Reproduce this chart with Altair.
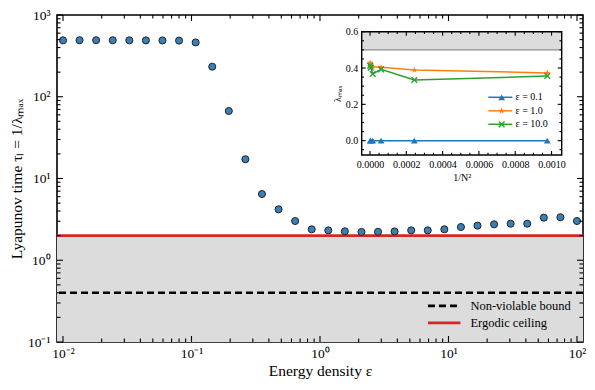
import altair as alt
import pandas as pd

# ---------------- data ----------------
eps = [0.01, 0.01345, 0.0181, 0.02438, 0.03282, 0.04417, 0.05946, 0.08003,
       0.1077, 0.145, 0.1951, 0.2626, 0.3536, 0.4759, 0.6404, 0.862,
       1.160, 1.561, 2.102, 2.828, 3.808, 5.125, 6.898, 9.284,
       12.50, 16.82, 22.64, 30.47, 41.01, 55.22, 74.30, 100.0]
tau = [490, 492, 492, 491, 490, 489, 488, 486,
       462, 233, 67, 17.2, 6.46, 4.2, 3.02, 2.39,
       2.32, 2.26, 2.22, 2.23, 2.25, 2.32, 2.32, 2.39,
       2.55, 2.65, 2.75, 2.80, 2.80, 3.32, 3.36, 3.02]
bound_names = ["Non-violable bound", "Ergodic ceiling"]
bound_values = [0.4, 2.0]

inv_n2 = [9.54e-7, 3.81e-6, 1.526e-5, 6.10e-5, 2.441e-4, 9.766e-4]
lam_eps01 = [0.0, 0.0, 0.0, 0.0, 0.0, 0.0]
lam_eps1 = [0.429, 0.418, 0.407, 0.404, 0.389, 0.373]
lam_eps10 = [0.413, 0.402, 0.367, 0.393, 0.334, 0.356]
series_names = ["ε = 0.1", "ε = 1.0", "ε = 10.0"]
series_codes = ["0.1", "1.0", "10.0"]
series_colors = ["#1f77b4", "#ff7f0e", "#2ca02c"]
inset_ceiling = 0.5

x_major = [0.01, 0.1, 1, 10, 100]
y_major = [0.1, 1, 10, 100, 1000]
x_minor = [m * d for d in [0.01, 0.1, 1, 10] for m in range(2, 10)]
y_minor = [m * d for d in [0.1, 1, 10, 100] for m in range(2, 10)]
ix_major = [0.0, 0.0002, 0.0004, 0.0006, 0.0008, 0.001]
ix_minor = [k * 0.00005 for k in range(0, 21) if k % 4 != 0]
iy_major = [0.0, 0.2, 0.4, 0.6]
iy_minor = [-0.05, 0.05, 0.1, 0.15, 0.25, 0.3, 0.35, 0.45, 0.5, 0.55]

# ---------------- layout / style ----------------
W, H = 526, 327
FONT = "Liberation Serif"
IX0, IX1 = 304.7, 504.7      # inset pixel box inside the main plot
IY0, IY1 = 140.0, 16.7
IXD = [-4.57e-5, 0.001056]
IYD = [-0.079, 0.6]

xs = alt.Scale(type="log", domain=[0.00898, 111.4], nice=False)
ys = alt.Scale(type="log", domain=[0.1, 1000], nice=False)
ixs = alt.Scale(domain=IXD, range=[IX0, IX1], nice=False, zero=False)
iys = alt.Scale(domain=IYD, range=[IY0, IY1], nice=False, zero=False)

sup_expr = ("datum.value < 0.05 ? '10⁻²' : datum.value < 0.5 ? '10⁻¹' : "
            "datum.value < 5 ? '10⁰' : datum.value < 50 ? '10¹' : "
            "datum.value < 500 ? '10²' : '10³'")

# ---------------- main panel ----------------
main_df = pd.DataFrame({"eps": eps, "tau": tau})
band_df = pd.DataFrame({"lo": [0.1], "hi": [bound_values[1]]})
bound_df = pd.DataFrame({"kind": bound_names, "val": bound_values})

band = alt.Chart(band_df).mark_rect(color="#dcdcdc").encode(
    y=alt.Y("lo:Q", scale=ys, axis=None), y2="hi:Q")

main_legend = alt.Legend(orient="none", legendX=379.2, legendY=282.9, title=None,
                         symbolType="M-2.5,0H2.5", symbolSize=169, symbolStrokeWidth=2.6,
                         labelFont=FONT, labelFontSize=12.5, labelOffset=18.2,
                         rowPadding=2.0, padding=0, labelColor="black")
bounds = alt.Chart(bound_df).mark_rule(strokeWidth=2.6).encode(
    y=alt.Y("val:Q", scale=ys, axis=None),
    stroke=alt.Stroke("kind:N", scale=alt.Scale(domain=bound_names, range=["#000000", "#d62728"]),
                      legend=main_legend),
    strokeDash=alt.StrokeDash("kind:N", scale=alt.Scale(domain=bound_names, range=[[7, 4], [1, 0]]),
                              legend=main_legend),
)

scatter = alt.Chart(main_df).mark_circle(size=50, fill="#3a7fb8", stroke="#222222",
                                         strokeWidth=1.0, opacity=1).encode(
    x=alt.X("eps:Q", scale=xs,
            axis=alt.Axis(orient="bottom", values=x_major, labelExpr=sup_expr, ticks=False,
                          domain=False, grid=False, labelFlush=False, labelOverlap=False,
                          labelFont=FONT, labelFontSize=13.5, labelPadding=4, labelColor="black",
                          title="Energy density ε", titleFont=FONT, titleFontSize=15.5,
                          titleFontWeight="normal", titlePadding=4, titleColor="black")),
    y=alt.Y("tau:Q", scale=ys,
            axis=alt.Axis(orient="left", values=y_major, labelExpr=sup_expr, ticks=False,
                          domain=False, grid=False, labelOverlap=False, labelFlush=False,
                          labelFont=FONT, labelFontSize=13.5, labelPadding=7, labelColor="black",
                          title="Lyapunov time τₗ = 1/λₘₐₓ", titleFont=FONT, titleFontSize=15.5,
                          titleFontWeight="normal", titlePadding=3, titleColor="black")),
)


def vticks(values, scale, y_from, length):
    df = pd.DataFrame({"v": values})
    return alt.Chart(df).mark_rule(color="black", strokeWidth=1.1).encode(
        x=alt.X("v:Q", scale=scale, axis=None),
        y=alt.value(y_from), y2=alt.value(y_from + length))


def hticks(values, scale, x_from, length):
    df = pd.DataFrame({"v": values})
    return alt.Chart(df).mark_rule(color="black", strokeWidth=1.1).encode(
        y=alt.Y("v:Q", scale=scale, axis=None),
        x=alt.value(x_from), x2=alt.value(x_from + length))


MJ, MN = 6, 3.5
main_ticks = [
    vticks(x_major, xs, H, -MJ), vticks(x_minor, xs, H, -MN),
    vticks(x_major, xs, 0, MJ), vticks(x_minor, xs, 0, MN),
    hticks(y_major, ys, 0, MJ), hticks(y_minor, ys, 0, MN),
    hticks(y_major, ys, W, -MJ), hticks(y_minor, ys, W, -MN),
]

# ---------------- inset ----------------
rows = []
for name, code, vals in zip(series_names, series_codes, [lam_eps01, lam_eps1, lam_eps10]):
    for xv, yv in zip(inv_n2, vals):
        rows.append({"n": xv, "lam": yv, "series": name, "code": code})
inset_df = pd.DataFrame(rows)
box_df = pd.DataFrame({"x0": [IXD[0]], "x1": [IXD[1]], "y0": [IYD[0]], "y1": [IYD[1]]})
ceil_df = pd.DataFrame({"x0": [IXD[0]], "x1": [IXD[1]], "y0": [inset_ceiling], "y1": [IYD[1]]})

inset_bg = alt.Chart(box_df).mark_rect(fill="white").encode(
    x=alt.X("x0:Q", scale=ixs, axis=None), x2="x1:Q",
    y=alt.Y("y0:Q", scale=iys, axis=None), y2="y1:Q")
inset_band = alt.Chart(ceil_df).mark_rect(fill="#dcdcdc").encode(
    x=alt.X("x0:Q", scale=ixs, axis=None), x2="x1:Q",
    y=alt.Y("y0:Q", scale=iys, axis=None), y2="y1:Q")
inset_ceil = alt.Chart(ceil_df).mark_rule(color="#8c8c8c", strokeWidth=1.2).encode(
    x=alt.X("x0:Q", scale=ixs, axis=None), x2="x1:Q",
    y=alt.Y("y0:Q", scale=iys, axis=None))

inset_lines = alt.Chart(inset_df).mark_line(strokeWidth=1.5).encode(
    x=alt.X("n:Q", scale=ixs,
            axis=alt.Axis(orient="bottom", offset=-(H - IY0), values=ix_major, format=".4f",
                          ticks=False, domain=False, grid=False, labelFlush=False,
                          labelOverlap=False, labelFont=FONT, labelFontSize=10, labelPadding=4,
                          labelColor="black", title="1/N²", titleFont=FONT, titleFontSize=10,
                          titleFontWeight="normal", titlePadding=3, titleColor="black")),
    y=alt.Y("lam:Q", scale=iys,
            axis=alt.Axis(orient="left", offset=-IX0, values=iy_major, format=".1f",
                          ticks=False, domain=False, grid=False, labelFlush=False,
                          labelOverlap=False, labelFont=FONT, labelFontSize=10, labelPadding=4,
                          labelColor="black", title="λₘₐₓ", titleFont=FONT, titleFontSize=10,
                          titleFontWeight="normal", titlePadding=3, titleColor="black")),
    color=alt.Color("series:N", scale=alt.Scale(domain=series_names, range=series_colors),
                    legend=alt.Legend(orient="none", legendX=438.3, legendY=77.3, title=None,
                                      symbolType="M-3,0H3", symbolSize=64, symbolStrokeWidth=1.5,
                                      labelFont=FONT, labelFontSize=10, labelOffset=10.2,
                                      rowPadding=3.5, padding=0, labelColor="black")),
    detail="series:N",
)

TRI = "triangle-up"
STAR = ("M0,-1L0.235,-0.324L0.951,-0.309L0.38,0.124L0.588,0.809L0,0.4"
        "L-0.588,0.809L-0.38,0.124L-0.951,-0.309L-0.235,-0.324Z")
XMARK = ("M-1,-0.7L-0.7,-1L0,-0.3L0.7,-1L1,-0.7L0.3,0L1,0.7L0.7,1L0,0.3"
         "L-0.7,1L-1,0.7L-0.3,0Z")
pt_legend = alt.Legend(orient="none", legendX=439.7, legendY=77.3, title=None,
                       symbolSize=45, symbolOpacity=1, symbolStrokeWidth=0,
                       labelExpr="''", labelFont=FONT, labelFontSize=10,
                       rowPadding=3.5, padding=0)
inset_points = alt.Chart(inset_df).mark_point(filled=True, size=45, opacity=1, strokeWidth=0).encode(
    x=alt.X("n:Q", scale=ixs, axis=None),
    y=alt.Y("lam:Q", scale=iys, axis=None),
    fill=alt.Fill("code:N", scale=alt.Scale(domain=series_codes, range=series_colors), legend=pt_legend),
    shape=alt.Shape("code:N", scale=alt.Scale(domain=series_codes, range=[TRI, STAR, XMARK]),
                    legend=pt_legend),
)

IMJ, IMN = 4, 2.3
inset_ticks = [
    vticks(ix_major, ixs, IY0, -IMJ), vticks(ix_minor, ixs, IY0, -IMN),
    vticks(ix_major, ixs, IY1, IMJ), vticks(ix_minor, ixs, IY1, IMN),
    hticks(iy_major, iys, IX0, IMJ), hticks(iy_minor, iys, IX0, IMN),
    hticks(iy_major, iys, IX1, -IMJ), hticks(iy_minor, iys, IX1, -IMN),
]
inset_frame = alt.Chart(box_df).mark_rect(fill=None, stroke="black", strokeWidth=1.4).encode(
    x=alt.X("x0:Q", scale=ixs, axis=None), x2="x1:Q",
    y=alt.Y("y0:Q", scale=iys, axis=None), y2="y1:Q")

chart = alt.layer(
    band, bounds, scatter, *main_ticks,
    inset_bg, inset_band, inset_ceil, inset_lines, inset_points, *inset_ticks, inset_frame,
).resolve_scale(x="independent", y="independent").properties(
    width=W, height=H,
    padding={"left": 49, "top": 7, "right": 4, "bottom": 40},
    autosize=alt.AutoSizeParams(type="none"),
    background="white",
).configure_view(stroke="black", strokeWidth=1.6).configure_legend(
    labelFont=FONT, labelColor="black"
)

chart.save("out.html", embed_options={"renderer": "svg", "actions": False})
